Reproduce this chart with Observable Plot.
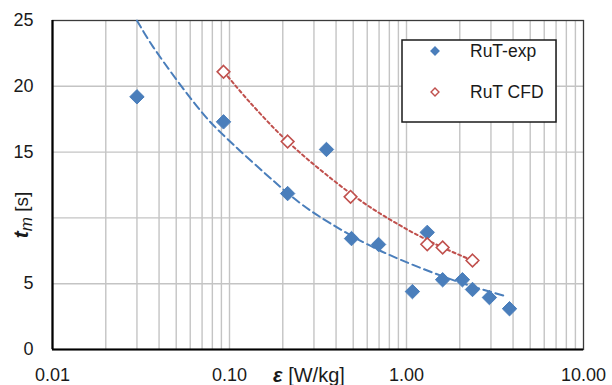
<!DOCTYPE html>
<html><head><meta charset="utf-8">
<script src="https://cdn.jsdelivr.net/npm/d3@7"></script>
<script src="https://cdn.jsdelivr.net/npm/@observablehq/plot@0.6"></script>
<style>
html,body{margin:0;padding:0;background:#fff;}
#chart{width:612px;height:385px;overflow:hidden;}
</style></head><body><div id="chart"></div>
<script>
const expEps = [0.03, 0.0925, 0.353, 0.213, 0.489, 0.695, 1.31, 1.08, 1.6, 2.07, 2.36, 2.94, 3.82];
const expTm  = [19.2, 17.3, 15.2, 11.85, 8.43, 7.98, 8.9, 4.4, 5.3, 5.3, 4.56, 3.95, 3.1];
const cfdEps = [0.0925, 0.213, 0.483, 1.31, 1.6, 2.36];
const cfdTm  = [21.1, 15.8, 11.6, 8.0, 7.75, 6.76];
// Trend lines
const expFitEps = [0.03, 0.037, 0.069, 0.089, 0.194, 0.252, 0.327, 0.571, 0.925, 2.0, 3.53];
const expFitTm  = [25.0, 23.0, 18.1, 16.5, 12.35, 11.1, 10.05, 8.15, 6.82, 5.1, 4.1];
const cfdFitEps = [0.093, 0.131, 0.213, 0.387, 0.602, 1.0, 1.6, 2.5];
const cfdFitTm  = [21.1, 18.75, 15.8, 12.85, 10.95, 9.15, 7.75, 6.62];
const seriesNames = ["RuT-exp", "RuT CFD"];
const xTickValues = [0.01, 0.1, 1, 10];
const yTickValues = [0, 5, 15, 20, 25];
const xGridValues = [0.02,0.03,0.04,0.05,0.06,0.07,0.08,0.09,0.1,0.2,0.3,0.4,0.5,0.6,0.7,0.8,0.9,1,2,3,4,5,6,7,8,9];
const yGridValues = [5, 10, 15, 20];

const blue = "#4a7ebb", red = "#c0504d";
const exp = expEps.map((e, i) => ({eps: e, tm: expTm[i]}));
const cfd = cfdEps.map((e, i) => ({eps: e, tm: cfdTm[i]}));
const expFit = expFitEps.map((e, i) => ({eps: e, tm: expFitTm[i]}));
const cfdFit = cfdFitEps.map((e, i) => ({eps: e, tm: cfdFitTm[i]}));

const font = "'Liberation Sans', Arial, sans-serif";
const plot = Plot.plot({
  width: 612, height: 385,
  marginLeft: 52, marginRight: 29, marginTop: 20, marginBottom: 36,
  style: {fontFamily: font, fontSize: "18px", color: "#1a1a1a", background: "#fff"},
  x: {type: "log", domain: [0.01, 10]},
  y: {domain: [0, 25]},
  marks: [
    Plot.ruleX(xGridValues, {stroke: "#c4c4c4", strokeWidth: 1.4}),
    Plot.ruleY(yGridValues, {stroke: "#c4c4c4", strokeWidth: 1.4}),
    Plot.frame({stroke: "#3a3a3a", strokeWidth: 1.3}),
    Plot.ruleX([0.01], {stroke: "#000", strokeWidth: 2.2}),
    Plot.ruleY([0], {stroke: "#000", strokeWidth: 2}),
    Plot.axisX(xTickValues, {tickSize: 0, tickPadding: 19, tickFormat: d3.format(".2f"), label: null, fontSize: 18}),
    Plot.axisY(yTickValues, {tickSize: 0, tickPadding: 19, label: null, fontSize: 18}),
    Plot.line(expFit, {x: "eps", y: "tm", stroke: blue, strokeWidth: 2, strokeDasharray: "8,4.5", curve: "catmull-rom"}),
    Plot.line(cfdFit, {x: "eps", y: "tm", stroke: red, strokeWidth: 2, strokeDasharray: "3,3", curve: "catmull-rom"}),
    Plot.dot(exp, {x: "eps", y: "tm", symbol: "diamond2", r: 6.5, fill: blue, stroke: blue, strokeWidth: 1}),
    Plot.dot(cfd, {x: "eps", y: "tm", symbol: "diamond2", r: 5.7, fill: "#fff", stroke: red, strokeWidth: 1.6})
  ]
});
document.getElementById("chart").appendChild(plot);

const svg = d3.select(plot);
// x-axis title
const xt = svg.append("text").attr("x", 273).attr("y", 382).attr("text-anchor", "start")
  .attr("font-family", font).attr("font-size", 20).attr("fill", "#1a1a1a");
xt.append("tspan").attr("font-weight", "bold").attr("font-style", "italic").text("ε");
xt.append("tspan").text(" [W/kg]");
// y-axis title
const yt = svg.append("text").attr("transform", "translate(28,215) rotate(-90)")
  .attr("text-anchor", "middle").attr("font-family", font).attr("font-size", 19).attr("fill", "#1a1a1a");
yt.append("tspan").attr("font-weight", "bold").attr("font-style", "italic").attr("font-size", 21).text("t");
yt.append("tspan").attr("font-style", "italic").attr("font-size", 17).attr("dy", 4).text("m");
yt.append("tspan").attr("dy", -4).text(" [s]");
// legend
const lg = svg.append("g");
lg.append("rect").attr("x", 402).attr("y", 40).attr("width", 154).attr("height", 82)
  .attr("fill", "#fff").attr("stroke", "#1a1a1a").attr("stroke-width", 1.5);
const sym = d3.symbol(d3.symbolDiamond2, 40);
const items = [{name: seriesNames[0], y: 51, fill: blue, stroke: blue}, {name: seriesNames[1], y: 92, fill: "#fff", stroke: red}];
items.forEach(it => {
  lg.append("path").attr("d", sym()).attr("transform", `translate(435,${it.y})`)
    .attr("fill", it.fill).attr("stroke", it.stroke).attr("stroke-width", 1.4);
  lg.append("text").attr("x", 470).attr("y", it.y).attr("dy", "0.35em").attr("text-anchor", "start")
    .attr("font-family", font).attr("font-size", 17.5).attr("fill", "#1a1a1a").text(it.name);
});
</script>
</body></html>
